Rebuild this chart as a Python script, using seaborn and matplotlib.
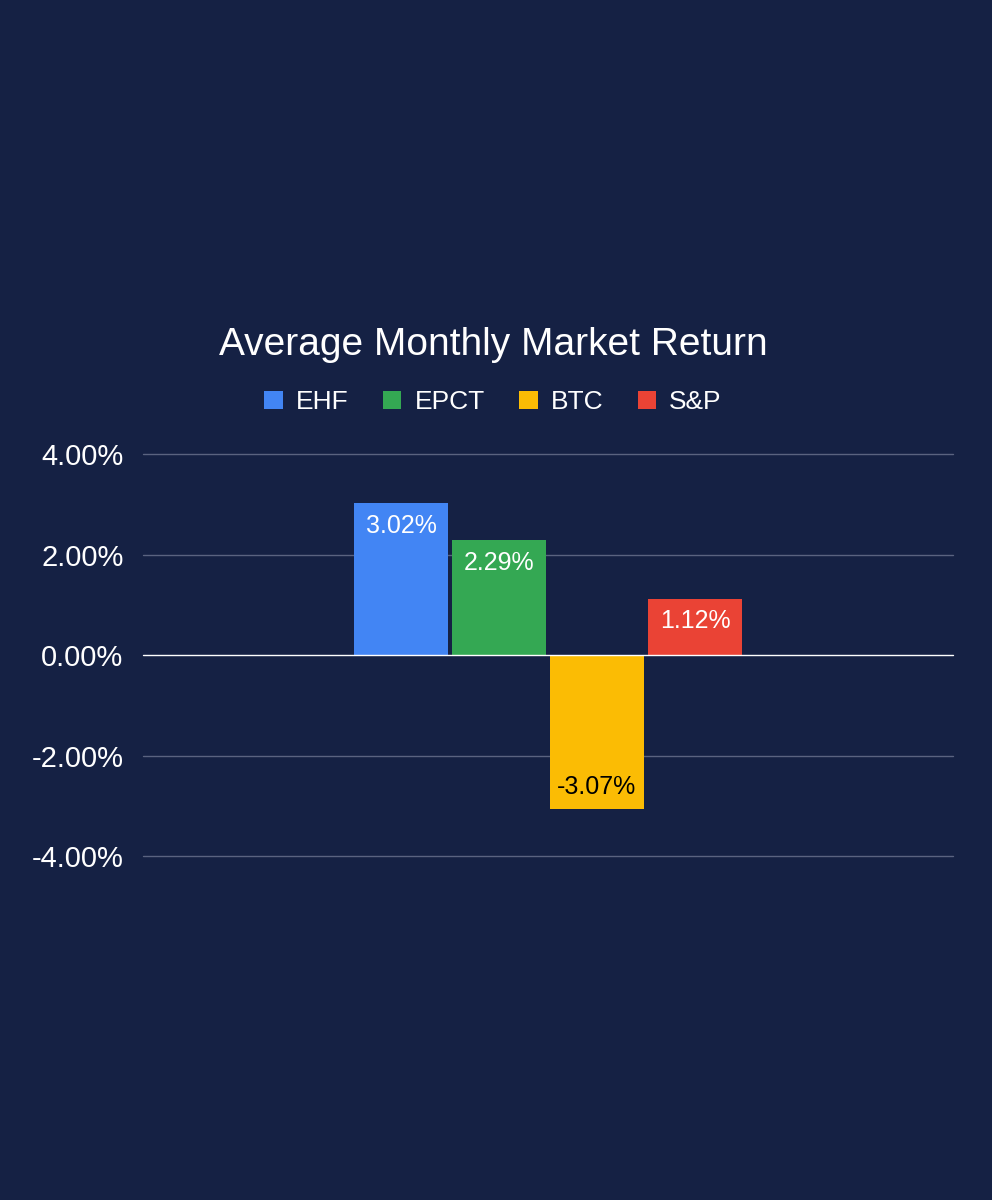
import matplotlib
matplotlib.use("Agg")
import matplotlib.pyplot as plt
import seaborn as sns
import pandas as pd
from matplotlib.patches import Patch

series = ["EHF", "EPCT", "BTC", "S&P"]
returns = [3.02, 2.29, -3.07, 1.12]
colors = ["#4285F4", "#34A853", "#FBBC04", "#EA4335"]
label_colors = ["white", "white", "black", "white"]
yticks = [-4, -2, 0, 2, 4]

bg = "#152144"
sns.set_style("dark")
plt.rcParams["font.family"] = ["Liberation Sans", "DejaVu Sans"]

df = pd.DataFrame({"series": series, "ret": returns})

fig = plt.figure(figsize=(9.92, 12), dpi=100, facecolor=bg)
ax = fig.add_axes([143/992, 1-856/1200, (953-143)/992, (856-454)/1200])
ax.set_facecolor(bg)

sns.barplot(data=df, x="series", y="ret", hue="series", palette=colors,
            width=0.96, legend=False, ax=ax, saturation=1, linewidth=0, edgecolor="none")

for p, v, c in zip(ax.patches, returns, label_colors):
    x = p.get_x() + p.get_width() / 2
    if v >= 0:
        ax.text(x, v - 0.45, f"{v:.2f}%", ha="center", va="center", color=c, fontsize=18, zorder=5)
    else:
        ax.text(x, v + 0.45, f"{v:.2f}%", ha="center", va="center", color=c, fontsize=18, zorder=5)

half = 810 / 98 / 2
ax.set_xlim(1.5 - half, 1.5 + half)
ax.set_ylim(-4, 4)
ax.set_yticks(yticks)
ax.set_yticklabels([f"{t:.2f}%" for t in yticks], color="white", fontsize=21)
ax.set_xticks([])
ax.set_xlabel("")
ax.set_ylabel("")
ax.tick_params(axis="y", length=0, pad=14)
for t in yticks:
    ax.axhline(t, color="#5a6380" if t != 0 else "white", lw=1,
               zorder=0 if t != 0 else 3, clip_on=False)
for s in ax.spines.values():
    s.set_visible(False)
ax.grid(False)

fig.text(493/992, 1-345/1200, "Average Monthly Market Return", ha="center", va="center",
         color="white", fontsize=28)
handles = [Patch(facecolor=c, edgecolor="none", label=s) for s, c in zip(series, colors)]
fig.legend(handles=handles, loc="center", bbox_to_anchor=(493/992, 1-402/1200), ncol=4,
           frameon=False, fontsize=19, labelcolor="white", handlelength=0.7,
           handleheight=0.7, columnspacing=1.3, handletextpad=0.5)

fig.savefig("out.png", dpi=100, facecolor=bg)
